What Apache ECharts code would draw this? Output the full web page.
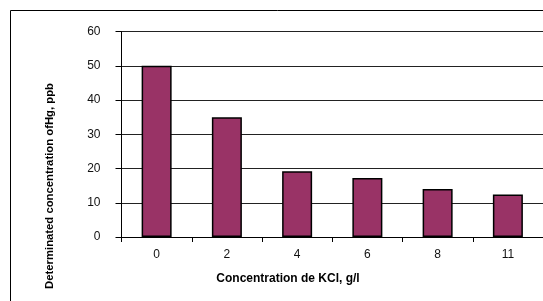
<!DOCTYPE html>
<html>
<head>
<meta charset="utf-8">
<script src="https://cdn.jsdelivr.net/npm/echarts@6/dist/echarts.min.js"></script>
<style>
	html, body { margin: 0; padding: 0; background: #fff; }
	#chart { width: 543px; height: 301px; }
</style>
</head>
<body>
<div id="chart"></div>
<script>
// data
var categories = ['0', '2', '4', '6', '8', '11'];
var hgValues = [50, 35, 19.2, 17.2, 14, 12.4];
var yTicks = { min: 0, max: 60, interval: 10 };

var xTitle = 'Concentration de KCl, g/l';
var yTitle = 'Determinated concentration ofHg, ppb';

var chart = echarts.init(document.getElementById('chart'), null, { renderer: 'canvas' });

var font = 'Liberation Sans, Arial, sans-serif';

var option = {
	animation: false,
	backgroundColor: '#fff',
	grid: {
		left: 121.5,
		top: 31.5,
		right: 0,
		bottom: 64
	},
	xAxis: {
		type: 'category',
		data: categories,
		boundaryGap: true,
		axisLine: { lineStyle: { color: '#000', width: 1 } },
		axisTick: { show: true, length: 5, alignWithLabel: false, lineStyle: { color: '#000' } },
		axisLabel: { margin: 12, color: '#111', fontSize: 12, fontFamily: font },
		splitLine: { show: false }
	},
	yAxis: {
		type: 'value',
		min: yTicks.min,
		max: yTicks.max,
		interval: yTicks.interval,
		axisLine: { show: true, lineStyle: { color: '#000', width: 1 } },
		axisTick: { show: true, length: 6, inside: false, lineStyle: { color: '#000' } },
		axisLabel: { margin: 21, color: '#111', fontSize: 12, fontFamily: font },
		splitLine: { show: true, lineStyle: { color: '#222', width: 1 } }
	},
	series: [{
		type: 'bar',
		data: hgValues,
		barWidth: 30,
		itemStyle: {
			color: '#993366',
			borderColor: '#000',
			borderWidth: 1.5
		}
	}],
	graphic: [{
		type: 'rect',
		silent: true,
		shape: { x: 10.5, y: 10.5, width: 600, height: 400 },
		style: { fill: 'none', stroke: '#000', lineWidth: 1 },
		z: -1
	}, {
		type: 'text',
		x: 288,
		y: 279,
		style: {
			text: xTitle,
			font: 'bold 12px ' + font,
			fill: '#000',
			align: 'center',
			verticalAlign: 'middle'
		}
	}, {
		// y title, rotated
		type: 'text',
		x: 50,
		y: 186,
		rotation: Math.PI / 2,
		style: {
			text: yTitle,
			font: 'bold 11.3px ' + font,
			fill: '#000',
			align: 'center',
			verticalAlign: 'middle'
		}
	}]
};

chart.setOption(option);
</script>
</body>
</html>
